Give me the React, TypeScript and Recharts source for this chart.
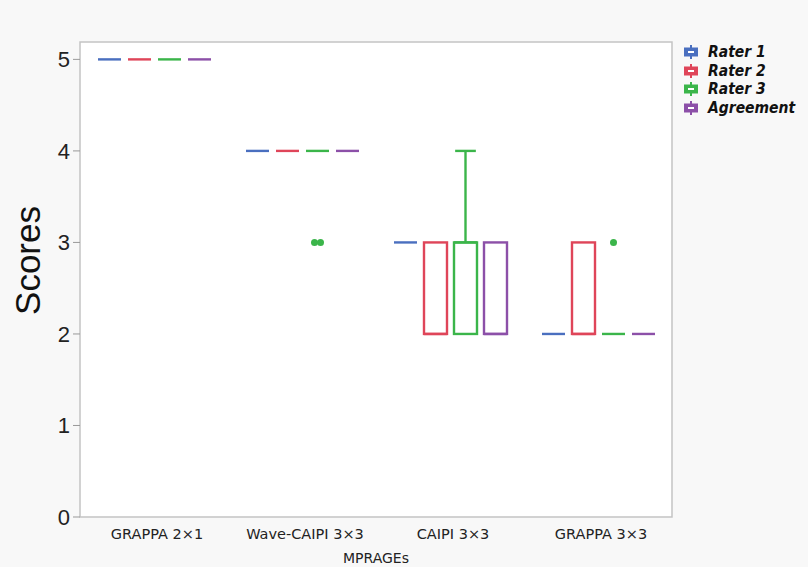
import React from 'react';
import { ComposedChart, Bar, XAxis, YAxis, ReferenceArea, Legend } from 'recharts';

const categories = ['GRAPPA 2×1', 'Wave-CAIPI 3×3', 'CAIPI 3×3', 'GRAPPA 3×3'];

const raters = [
  { key: 'r1', name: 'Rater 1', color: '#4a6fbf' },
  { key: 'r2', name: 'Rater 2', color: '#df4559' },
  { key: 'r3', name: 'Rater 3', color: '#3bb54a' },
  { key: 'ag', name: 'Agreement', color: '#8c50a8' },
];

// box stats per category: min, q1, median, q3, max
const r1Min = [5, 4, 3, 2];
const r1Q1 = [5, 4, 3, 2];
const r1Med = [5, 4, 3, 2];
const r1Q3 = [5, 4, 3, 2];
const r1Max = [5, 4, 3, 2];
const r1Out: number[][] = [[], [], [], []];

const r2Min = [5, 4, 2, 2];
const r2Q1 = [5, 4, 2, 2];
const r2Med = [5, 4, 2, 2];
const r2Q3 = [5, 4, 3, 3];
const r2Max = [5, 4, 3, 3];
const r2Out: number[][] = [[], [], [], []];

const r3Min = [5, 4, 2, 2];
const r3Q1 = [5, 4, 2, 2];
const r3Med = [5, 4, 3, 2];
const r3Q3 = [5, 4, 3, 2];
const r3Max = [5, 4, 4, 2];
const r3Out: number[][] = [[], [3, 3], [], [3]];

const agMin = [5, 4, 2, 2];
const agQ1 = [5, 4, 2, 2];
const agMed = [5, 4, 2, 2];
const agQ3 = [5, 4, 3, 2];
const agMax = [5, 4, 3, 2];
const agOut: number[][] = [[], [], [], []];

const yTicks = [0, 1, 2, 3, 4, 5];

const stats: Record<string, number[][] | number[]>[] = [
  { min: r1Min, q1: r1Q1, med: r1Med, q3: r1Q3, max: r1Max, out: r1Out },
  { min: r2Min, q1: r2Q1, med: r2Med, q3: r2Q3, max: r2Max, out: r2Out },
  { min: r3Min, q1: r3Q1, med: r3Med, q3: r3Q3, max: r3Max, out: r3Out },
  { min: agMin, q1: agQ1, med: agMed, q3: agQ3, max: agMax, out: agOut },
];

const data = categories.map((name, i) => {
  const row: any = { name };
  raters.forEach((r, j) => {
    const s: any = stats[j];
    row[r.key] = { min: s.min[i], q1: s.q1[i], med: s.med[i], q3: s.q3[i], max: s.max[i], out: s.out[i] };
    row[r.key + 'Top'] = s.max[i];
  });
  return row;
});

function makeShape(key: string, color: string) {
  return (props: any) => {
    const { x, y, width, height, payload } = props;
    const b = payload[key];
    const base = y + height;
    const py = (v: number) => base - (v / b.max) * height;
    const cx = x + width / 2;
    const sw = 2.4;
    const capW = width * 0.9;
    const parts: React.ReactNode[] = [];
    if (b.max > b.q3) {
      parts.push(<line key="wu" x1={cx} x2={cx} y1={py(b.q3)} y2={py(b.max)} stroke={color} strokeWidth={sw} />);
      parts.push(<line key="cu" x1={cx - capW / 2} x2={cx + capW / 2} y1={py(b.max)} y2={py(b.max)} stroke={color} strokeWidth={sw} />);
    }
    if (b.min < b.q1) {
      parts.push(<line key="wl" x1={cx} x2={cx} y1={py(b.q1)} y2={py(b.min)} stroke={color} strokeWidth={sw} />);
      parts.push(<line key="cl" x1={cx - capW / 2} x2={cx + capW / 2} y1={py(b.min)} y2={py(b.min)} stroke={color} strokeWidth={sw} />);
    }
    if (b.q3 === b.q1) {
      parts.push(<line key="flat" x1={x} x2={x + width} y1={py(b.q1)} y2={py(b.q1)} stroke={color} strokeWidth={sw} />);
    } else {
      parts.push(
        <rect key="box" x={x} y={py(b.q3)} width={width} height={py(b.q1) - py(b.q3)} fill="none" stroke={color} strokeWidth={sw} />
      );
      parts.push(<line key="med" x1={x} x2={x + width} y1={py(b.med)} y2={py(b.med)} stroke={color} strokeWidth={sw} />);
    }
    b.out.forEach((v: number, k: number) => {
      const n = b.out.length;
      const dx = n > 1 ? (k - (n - 1) / 2) * 6 : 0;
      parts.push(<circle key={'o' + k} cx={cx + dx} cy={py(v)} r={3.5} fill={color} />);
    });
    return <g>{parts}</g>;
  };
}

function LegendBox() {
  return (
    <div style={{ fontFamily: '"DejaVu Sans Condensed", "DejaVu Sans"', fontWeight: 'bold', fontStyle: 'italic', fontSize: 15.5, color: '#111', textAlign: 'left' }}>
      {raters.map((r) => (
        <div key={r.key} style={{ display: 'flex', alignItems: 'center', height: 18.5 }}>
          <svg width={16} height={14} style={{ marginRight: 9 }}>
            <line x1={8} x2={8} y1={0} y2={14} stroke={r.color} strokeWidth={2} />
            <rect x={1} y={2.5} width={14} height={9} fill={r.color} />
            <line x1={5} x2={11} y1={7} y2={7} stroke="#fff" strokeWidth={2} />
          </svg>
          <span>{r.name}</span>
        </div>
      ))}
    </div>
  );
}

export default function App() {
  return (
    <div style={{ position: 'absolute', left: 0, top: 0, width: 808, height: 567, background: '#f8f8f8' }}>
      <ComposedChart
        width={808}
        height={567}
        data={data}
        margin={{ top: 42, right: 136, bottom: 0, left: 35 }}
        barSize={23}
        barGap={7}
      >
        <ReferenceArea y1={0} y2={5.19} fill="#ffffff" fillOpacity={1} stroke="#c4c4c4" strokeWidth={1.5} ifOverflow="visible" />
        <XAxis
          dataKey="name"
          axisLine={false}
          tickLine={false}
          height={50}
          tickMargin={6}
          tick={{ fontFamily: 'DejaVu Sans', fontSize: 14.5, fill: '#222', dx: 3 }}
          label={{ value: 'MPRAGEs', position: 'insideBottom', offset: 4, fontFamily: 'DejaVu Sans', fontSize: 14, fill: '#222' }}
        />
        <YAxis
          type="number"
          domain={[0, 5.19]}
          ticks={yTicks}
          width={45}
          axisLine={false}
          tickSize={7}
          tickMargin={3}
          tickLine={{ stroke: '#999' }}
          tick={{ fontFamily: 'Liberation Sans', fontSize: 22, fill: '#222' }}
          label={{ value: 'Scores', angle: -90, position: 'insideLeft', dx: -12, dy: -19, fontFamily: 'Liberation Sans', fontSize: 35, fill: '#111', style: { textAnchor: 'middle' } }}
        />
        {raters.map((r) => (
          <Bar key={r.key} dataKey={r.key + 'Top'} name={r.name} shape={makeShape(r.key, r.color)} isAnimationActive={false} />
        ))}
        <Legend
          layout="horizontal"
          verticalAlign="middle"
          align="center"
          content={<LegendBox />}
          wrapperStyle={{ left: 683, top: 43, width: 125 }}
        />
      </ComposedChart>
    </div>
  );
}
